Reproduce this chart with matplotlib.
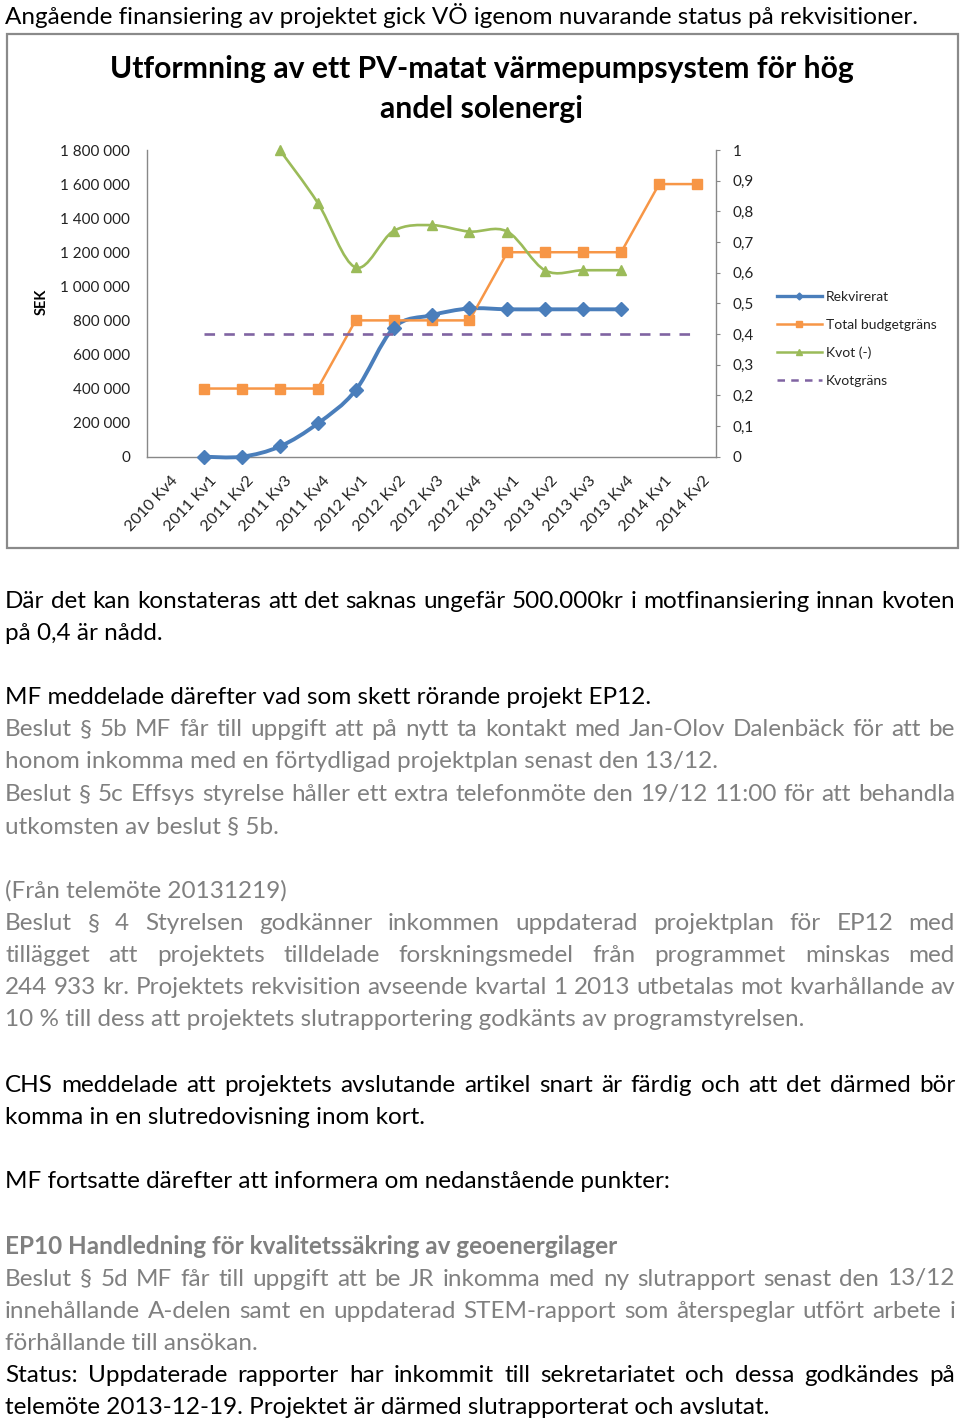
import numpy as np
import matplotlib
matplotlib.use('Agg')
import matplotlib.pyplot as plt
from matplotlib.path import Path
from matplotlib.patches import PathPatch, Rectangle
from matplotlib.lines import Line2D
from matplotlib.ticker import MultipleLocator, FuncFormatter
from matplotlib.transforms import ScaledTranslation

## chart data
quarters = ['2010 Kv4', '2011 Kv1', '2011 Kv2', '2011 Kv3', '2011 Kv4',
            '2012 Kv1', '2012 Kv2', '2012 Kv3', '2012 Kv4',
            '2013 Kv1', '2013 Kv2', '2013 Kv3', '2013 Kv4',
            '2014 Kv1', '2014 Kv2']
nan = np.nan
rekvirerat = [nan, 0, 0, 60000, 195000, 390000, 755000, 830000, 870000,
              865000, 865000, 865000, 865000, nan, nan]
budget     = [nan, 400000, 400000, 400000, 400000, 800000, 800000, 800000, 800000,
              1200000, 1200000, 1200000, 1200000, 1600000, 1600000]
kvot       = [nan, nan, nan, 1.0, 0.828, 0.617, 0.736, 0.755, 0.734,
              0.734, 0.607, 0.608, 0.608, nan, nan]
kvotgrans  = [nan, 0.4, 0.4, 0.4, 0.4, 0.4, 0.4, 0.4, 0.4,
              0.4, 0.4, 0.4, 0.4, 0.4, 0.4]

title = 'Utformning av ett PV-matat värmepumpsystem för hög\nandel solenergi'
series_names = ['Rekvirerat', 'Total budgetgräns', 'Kvot (-)', 'Kvotgräns']

## page text: (text, y centre in px, colour, justified, bold)
BLACK = '#000000'
GREY = '#808080'
page_lines = [
    ('Angående finansiering av projektet gick VÖ igenom nuvarande status på rekvisitioner.', 15, BLACK, False, False),
    ('Där det kan konstateras att det saknas ungefär 500.000kr i motfinansiering innan kvoten', 601, BLACK, True, False),
    ('på 0,4 är nådd.', 633, BLACK, False, False),
    ('MF meddelade därefter vad som skett rörande projekt EP12.', 698, BLACK, False, False),
    ('Beslut § 5b MF får till uppgift att på nytt ta kontakt med Jan-Olov Dalenbäck för att be', 730, GREY, True, False),
    ('honom inkomma med en förtydligad projektplan senast den 13/12.', 762, GREY, False, False),
    ('Beslut § 5c Effsys styrelse håller ett extra telefonmöte den 19/12 11:00 för att behandla', 795, GREY, True, False),
    ('utkomsten av beslut § 5b.', 827, GREY, False, False),
    ('(Från telemöte 20131219)', 891, GREY, False, False),
    ('Beslut § 4 Styrelsen godkänner inkommen uppdaterad projektplan för EP12 med', 924, GREY, True, False),
    ('tillägget att projektets tilldelade forskningsmedel från programmet minskas med', 956, GREY, True, False),
    ('244 933 kr. Projektets rekvisition avseende kvartal 1 2013 utbetalas mot kvarhållande av', 988, GREY, True, False),
    ('10 % till dess att projektets slutrapportering godkänts av programstyrelsen.', 1020, GREY, False, False),
    ('CHS meddelade att projektets avslutande artikel snart är färdig och att det därmed bör', 1085, BLACK, True, False),
    ('komma in en slutredovisning inom kort.', 1117, BLACK, False, False),
    ('MF fortsatte därefter att informera om nedanstående punkter:', 1182, BLACK, False, False),
    ('EP10 Handledning för kvalitetssäkring av geoenergilager', 1246, GREY, False, True),
    ('Beslut § 5d MF får till uppgift att be JR inkomma med ny slutrapport senast den 13/12', 1279, GREY, True, False),
    ('innehållande A-delen samt en uppdaterad STEM-rapport som återspeglar utfört arbete i', 1311, GREY, True, False),
    ('förhållande till ansökan.', 1343, GREY, False, False),
    ('Status: Uppdaterade rapporter har inkommit till sekretariatet och dessa godkändes på', 1375, BLACK, True, False),
    ('telemöte 2013-12-19. Projektet är därmed slutrapporterat och avslutat.', 1408, BLACK, False, False),
]

## colours
c_blue   = '#4A7EBB'
c_orange = '#F79646'
c_green  = '#9BBB59'
c_purple = '#8064A2'
c_axis   = '#888888'

W, H = 960, 1421
plt.rcParams['font.family'] = ['Lato', 'DejaVu Sans']
fig = plt.figure(figsize=(W/100, H/100), dpi=100, facecolor='w')

def fx(x): return x / W
def fy(y): return 1 - y / H

## chart frame
fig.patches.append(Rectangle((fx(7), fy(548)), fx(958) - fx(7), fy(34) - fy(548),
                             transform=fig.transFigure, fill=False,
                             edgecolor='#8a8a8a', linewidth=1.6))

fig.text(fx(482), fy(89), title, ha='center', va='center', fontsize=21.7,
         fontweight='bold', linespacing=1.5)

## axes
left, right, top, bottom = 147, 716, 150, 456.7
ax = fig.add_axes([fx(left), fy(bottom), fx(right) - fx(left), fy(top) - fy(bottom)])
ax2 = ax.twinx()
x = np.arange(len(quarters))

def smooth_path(xs, ys):
    ok = ~np.isnan(np.asarray(ys, dtype=float))
    pts = np.column_stack([np.asarray(xs, float)[ok], np.asarray(ys, float)[ok]])
    n = len(pts)
    verts = [pts[0]]
    codes = [Path.MOVETO]
    for i in range(n - 1):
        p0 = pts[i - 1] if i > 0 else pts[i]
        p1, p2 = pts[i], pts[i + 1]
        p3 = pts[i + 2] if i + 2 < n else pts[i + 1]
        verts += [p1 + (p2 - p0) / 6, p2 - (p3 - p1) / 6, p2]
        codes += [Path.CURVE4] * 3
    return Path(verts, codes)

ax.add_patch(PathPatch(smooth_path(x, rekvirerat), fill=False, edgecolor=c_blue,
                       linewidth=2.8, capstyle='round', zorder=3, clip_on=False))
ax.plot(x, rekvirerat, ls='none', marker='D', ms=7, color=c_blue, zorder=4, clip_on=False)
ax.plot(x, budget, color=c_orange, lw=1.8, marker='s', ms=7, zorder=3, clip_on=False)

ax2.add_patch(PathPatch(smooth_path(x, kvot), fill=False, edgecolor=c_green,
                        linewidth=1.9, capstyle='round', zorder=3, clip_on=False))
ax2.plot(x, kvot, ls='none', marker='^', ms=7.5, color=c_green, zorder=4, clip_on=False)
ax2.plot(x, kvotgrans, color=c_purple, lw=1.9, ls=(0, (4, 3.5)), zorder=2)

ax.set_xlim(-0.5, len(quarters) - 0.5)
ax.set_ylim(0, 1800000)
ax2.set_ylim(0, 1)
ax.yaxis.set_major_locator(MultipleLocator(200000))
ax2.yaxis.set_major_locator(MultipleLocator(0.1))
ax.yaxis.set_major_formatter(FuncFormatter(lambda v, p: f'{int(round(v)):,}'.replace(',', ' ')))
ax2.yaxis.set_major_formatter(FuncFormatter(lambda v, p: f'{v:.1f}'.rstrip('0').rstrip('.').replace('.', ',') if v not in (0, 1) else str(int(v))))

for a in (ax, ax2):
    a.spines['top'].set_visible(False)
    for s in ('left', 'right', 'bottom'):
        a.spines[s].set_color(c_axis)
        a.spines[s].set_linewidth(1.0)
ax.spines['right'].set_visible(False)
ax2.spines['left'].set_visible(False)
ax2.spines['bottom'].set_visible(False)
ax.patch.set_visible(False)

ax.tick_params(axis='y', length=0, pad=12, labelsize=11, labelcolor='#222222')
ax2.tick_params(axis='y', length=3, direction='out', color=c_axis, pad=9,
                labelsize=11, labelcolor='#222222')
ax.set_xticks(x)
ax.set_xticklabels(quarters, rotation=47, ha='right', va='top',
                   rotation_mode='anchor', fontsize=11.5, color='#222222')
ax.tick_params(axis='x', length=0, pad=12)
for lab in ax.get_xticklabels():
    lab.set_transform(lab.get_transform() + ScaledTranslation(5/100, 0, fig.dpi_scale_trans))

fig.text(fx(42), fy(302), 'SEK', rotation=90, ha='center', va='center',
         fontsize=10.5, fontweight='bold')

handles = [Line2D([], [], color=c_blue, lw=2.4, marker='D', ms=3.5),
           Line2D([], [], color=c_orange, lw=1.8, marker='s', ms=5),
           Line2D([], [], color=c_green, lw=1.8, marker='^', ms=5),
           Line2D([], [], color=c_purple, lw=1.8, ls=(0, (3, 2.5)))]
fig.legend(handles, series_names, loc='center left',
           bbox_to_anchor=(fx(764), fy(339)), frameon=False, fontsize=10,
           handlelength=3.25, handletextpad=0.3, labelspacing=1.15,
           labelcolor='#222222')

## page text
renderer = fig.canvas.get_renderer()
X0, X1 = 5, 955
probe = fig.text(0, 0, page_lines[0][0], fontsize=16)
fs = 16 * 917 / probe.get_window_extent(renderer).width
probe.remove()

for txt, y, col, just, bold in page_lines:
    w = 'bold' if bold else 'normal'
    if not just:
        fig.text(fx(X0), fy(y), txt, fontsize=fs, color=col, fontweight=w,
                 ha='left', va='center')
        continue
    words = txt.split(' ')
    ts = [fig.text(0, 0, wd, fontsize=fs, color=col, fontweight=w,
                   ha='left', va='center') for wd in words]
    widths = [t.get_window_extent(renderer).width for t in ts]
    gap = (X1 - X0 - sum(widths)) / (len(words) - 1)
    xp = X0
    for t, wd in zip(ts, widths):
        t.set_position((fx(xp), fy(y)))
        xp += wd + gap

fig.savefig('out.png', dpi=100, facecolor='w')
